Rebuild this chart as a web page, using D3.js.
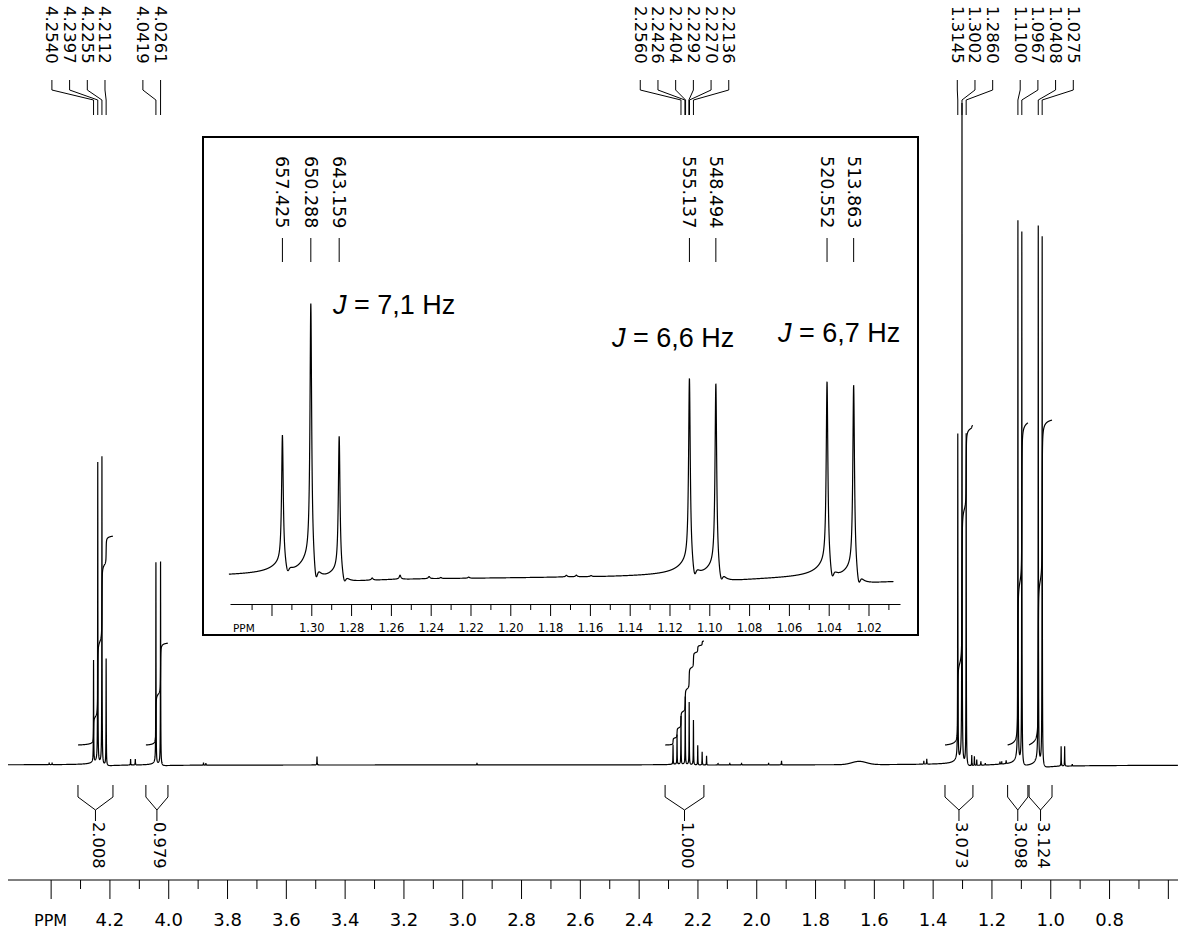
<!DOCTYPE html>
<html><head><meta charset="utf-8">
<script src="https://cdn.jsdelivr.net/npm/d3@7"></script>
<style>body{margin:0;background:#fff}svg{display:block}</style>
</head><body>
<svg id="c" width="1178" height="934"></svg>
<script>
// ================= DATA =================
// picked peaks (ppm), shown as labels on top
const labeledPpm = [4.2540,4.2397,4.2255,4.2112, 4.0419,4.0261,
  2.2560,2.2426,2.2404,2.2292,2.2270,2.2136,
  1.3145,1.3002,1.2860, 1.1100,1.0967,1.0408,1.0275];
const labelGroups = [[0,1,2,3],[4,5],[6,7,8,9,10,11],[12,13,14],[15,16,17,18]];
// main spectrum lines: position (ppm) and intensity (tallest = 100)
const mainLinePpm = [4.2540,4.2397,4.2255,4.2112, 4.0419,4.0261,
  2.2830,2.2694,2.2560,2.2415,2.2281,2.2136,2.1990,2.1840,2.1690,
  1.3145,1.3002,1.2860, 1.1100,1.0967, 1.0408,1.0275];
const mainLineInt = [15.5,45.6,46.7,16.2, 30.6,30.9,
  3.0,4.5,7.3,10.3,9.5,6.8,3.0,2.0,1.4,
  49.5,100,50.3, 82.0,80.8, 81.4,80.3];
// small impurity peaks
const smallPpm = [4.405,4.395,4.128,4.112,3.880,3.872,3.494,2.950,2.130,2.090,2.050,1.958,1.914,
  1.430,1.420,1.267,1.258,1.250,1.236,1.221,1.171,1.165,1.150,0.963,0.951,0.925];
const smallInt = [0.3,0.3,0.9,0.9,0.4,0.3,1.3,0.3,0.3,0.3,0.3,0.3,0.6,
  0.5,0.8,1.6,1.4,0.9,0.6,0.3,0.4,0.4,0.5,3.0,3.0,0.3];
const humpPpm = [1.650]; const humpInt = [0.5];
// integrals
const integralFrom = [4.307,4.076,2.310,1.358,1.145,1.072];
const integralTo   = [4.188,4.001,2.178,1.263,1.076,0.994];
const integralValues = [2.008,0.979,1.000,3.073,3.098,3.124];
// main axis
const axisMajor = [4.4,4.2,4.0,3.8,3.6,3.4,3.2,3.0,2.8,2.6,2.4,2.2,2.0,1.8,1.6,1.4,1.2,1.0,0.8,0.6];
const axisMinor = [4.3,4.1,3.9,3.7,3.5,3.3,3.1,2.9,2.7,2.5,2.3,2.1,1.9,1.7,1.5,1.3,1.1,0.9,0.7];
const axisLabels = ['', '4.2','4.0','3.8','3.6','3.4','3.2','3.0','2.8','2.6','2.4','2.2','2.0','1.8','1.6','1.4','1.2','1.0','0.8',''];
const axisUnit = 'PPM';
// inset (expansion)
const spectrometerMHz = 500.13;
const insetPeakHz = [657.425,650.288,643.159,555.137,548.494,520.552,513.863];
const insetPeakInt = [49.5,99,52.3,71,70.9,70.6,71.2];
const insetSmallPpm = [1.2694,1.2554,1.2408,1.2349,1.2209,1.1718,1.1668,1.1594,1.0943];
const insetSmallInt = [0.8,1.5,0.8,0.4,0.4,0.6,0.6,0.4,0.6];
const insetMajor = [1.32,1.30,1.28,1.26,1.24,1.22,1.20,1.18,1.16,1.14,1.12,1.10,1.08,1.06,1.04,1.02];
const insetMinor = [1.33,1.31,1.29,1.27,1.25,1.23,1.21,1.19,1.17,1.15,1.13,1.11,1.09,1.07,1.05,1.03,1.01];
const insetLabels = ['','1.30','1.28','1.26','1.24','1.22','1.20','1.18','1.16','1.14','1.12','1.10','1.08','1.06','1.04','1.02'];
const jTexts = [' = 7,1 Hz',' = 6,6 Hz',' = 6,7 Hz'];

// ================= LAYOUT =================
const L = {
  baseY: 765, topY: 105, axisY: 880,
  labelShift: [-21.4, -6.5, -2.7, 13, 16.7], labelSpacing: 17.7,
  inset: {x:203, y:137, w:715, h:498, baseY:578, topY:303, axisY:604},
  jPos: [[333,314],[612,347],[778,342]],
  brk: {top:785, mid:797, join:810, stem:821}
};
const svg = d3.select('#c');
const FONT = 'DejaVu Sans, Verdana, sans-serif';

// ppm -> px (spectrum and its axis)
const x = d3.scaleLinear().domain([4.5450, 0.5655]).range([8, 1178]);
const y = d3.scaleLinear().domain([0,100]).range([L.baseY, L.topY]);
const yInt = d3.scaleLinear().domain([0,1]).range([745, 641]);

// line shape model
const WN=0.0005, WB=0.005, A=0.01;
const mainLines = mainLinePpm.map((p,i)=>({p,h:mainLineInt[i]}))
  .concat(smallPpm.map((p,i)=>({p,h:smallInt[i]})));
function mainVal(p){
  let s=0;
  for(const l of mainLines){
    const un=(p-l.p)/WN, ub=(p-l.p)/WB;
    s += l.h*((1-A)/(1+un*un) + A*(1+ub)/(1+ub*ub));
  }
  humpPpm.forEach((hp,i)=>{ const u=(p-hp)/0.035; s+=humpInt[i]*Math.exp(-u*u); });
  return s;
}
function mainF(p){
  let s=0;
  for(const l of mainLines){
    s += l.h*((1-A)*WN*Math.atan((p-l.p)/WN) + A*WB*Math.atan((p-l.p)/WB));
  }
  return s;
}
function sampleGrid(pHi,pLo,step,centers,w){
  const pts=[];
  for(let p=pHi;p>=pLo;p-=step) pts.push(p);
  centers.forEach(c=>{ if(c<pHi&&c>pLo) for(let k=-4;k<=4;k++) pts.push(c+k*w*0.5); });
  return pts.filter(p=>p<=pHi&&p>=pLo).sort((a,b)=>b-a);
}

// ---- main spectrum ----
const [dHi,dLo] = x.domain();
const mainPts = sampleGrid(dHi,dLo,0.0004,mainLines.map(l=>l.p),WN);
svg.append('path')
  .attr('d', d3.line().x(p=>x(p)).y(p=>y(mainVal(p)))(mainPts))
  .attr('fill','none').attr('stroke','#000').attr('stroke-width',1.2);

// ---- integral curves + brackets ----
const B = L.brk;
integralFrom.forEach((pHi,i)=>{
  const pLo=integralTo[i];
  const tot = mainF(pHi)-mainF(pLo);
  const pts = sampleGrid(pHi,pLo,0.0004,mainLines.map(l=>l.p),WN);
  svg.append('path')
    .attr('d', d3.line().x(p=>x(p)).y(p=>yInt(integralValues[i]*(mainF(pHi)-mainF(p))/tot))(pts))
    .attr('fill','none').attr('stroke','#000').attr('stroke-width',1.2);
  const x1=x(pHi), x2=x(pLo), xm=(x1+x2)/2;
  svg.append('path')
    .attr('d',`M${x1},${B.top}V${B.mid}L${xm},${B.join}L${x2},${B.mid}V${B.top}M${xm},${B.join}V${B.stem}`)
    .attr('fill','none').attr('stroke','#000').attr('stroke-width',1);
  svg.append('text')
    .attr('transform',`translate(${xm+3},${B.stem+1}) rotate(90)`)
    .attr('font-family',FONT).attr('font-size',16.3)
    .attr('dominant-baseline','central')
    .text(integralValues[i].toFixed(3));
});

// ---- peak labels ----
labelGroups.forEach((g,gi)=>{
  const cx = d3.mean(g, i=>x(labeledPpm[i])) + L.labelShift[gi];
  g.forEach((idx,k)=>{
    const lx = cx + (k-(g.length-1)/2)*L.labelSpacing;
    const px = x(labeledPpm[idx]);
    svg.append('text')
      .attr('transform',`translate(${lx},6) rotate(90)`)
      .attr('font-family',FONT).attr('font-size',16.5)
      .attr('dominant-baseline','central')
      .text(labeledPpm[idx].toFixed(4));
    svg.append('path').attr('d',`M${lx},80V90L${px},100V115`)
      .attr('fill','none').attr('stroke','#000').attr('stroke-width',1);
  });
});

// ---- main axis ----
const axG = svg.append('g').attr('transform',`translate(0,${L.axisY})`);
axG.append('line').attr('x1',8).attr('x2',1178).attr('stroke','#000');
axG.append('g').call(d3.axisBottom(x).tickValues(axisMajor).tickSize(19).tickSizeOuter(0)
  .tickPadding(14).tickFormat((d,i)=>axisLabels[i])).select('.domain').remove();
axG.append('g').call(d3.axisBottom(x).tickValues(axisMinor).tickSize(9).tickSizeOuter(0).tickFormat(''))
  .select('.domain').remove();
axG.selectAll('text').attr('font-family',FONT).attr('font-size',18).attr('fill','#000');
axG.selectAll('line').attr('stroke','#000');
svg.append('text').attr('x',x(axisMajor[0])).attr('y',926).attr('text-anchor','middle')
  .attr('font-family',FONT).attr('font-size',16).text(axisUnit);

// ================= INSET =================
const I = L.inset;
svg.append('rect').attr('x',I.x).attr('y',I.y).attr('width',I.w).attr('height',I.h)
  .attr('fill','#fff').attr('stroke','#000').attr('stroke-width',2);
const xIn = d3.scaleLinear().domain([1.34085,1.00417]).range([230,900]);
const yIn = d3.scaleLinear().domain([0,100]).range([I.baseY, I.topY]);
const insetPpm = insetPeakHz.map(h=>h/spectrometerMHz);
const inLines = insetPpm.map((p,i)=>({p,h:insetPeakInt[i],big:true}))
  .concat(insetSmallPpm.map((p,i)=>({p,h:insetSmallInt[i]})));
const IWN=0.0005, IWB=0.004, IA=0.05;
function inVal(p){
  let s=0;
  for(const l of inLines){
    const un=(p-l.p)/IWN, ub=(p-l.p)/IWB;
    s += l.h*((1-IA)/(1+un*un) + IA*(1+ub)/(1+ub*ub));
    if(l.big){ const v=(p-(l.p-0.0025))/0.001; s -= 0.05*l.h*Math.exp(-v*v); }
  }
  return s;
}
const inPts = sampleGrid(1.3414,1.0074,0.00005,inLines.map(l=>l.p),IWN);
svg.append('path')
  .attr('d', d3.line().x(p=>xIn(p)).y(p=>yIn(inVal(p)))(inPts))
  .attr('fill','none').attr('stroke','#000').attr('stroke-width',1.2);
const iax = svg.append('g').attr('transform',`translate(0,${I.axisY})`);
iax.call(d3.axisBottom(xIn).tickValues(insetMajor).tickSize(12).tickSizeOuter(0)
  .tickPadding(8).tickFormat((d,i)=>insetLabels[i]));
iax.append('g').call(d3.axisBottom(xIn).tickValues(insetMinor).tickSize(6).tickSizeOuter(0).tickFormat(''))
  .select('.domain').remove();
iax.selectAll('text').attr('font-family',FONT).attr('font-size',11.5).attr('fill','#000');
iax.selectAll('line,path').attr('stroke','#000');
svg.append('text').attr('x',233).attr('y',I.axisY+28).attr('font-family',FONT).attr('font-size',10.5).text(axisUnit);
insetPeakHz.forEach((hz,i)=>{
  const px = xIn(insetPpm[i]);
  svg.append('text')
    .attr('transform',`translate(${px},156) rotate(90)`)
    .attr('font-family',FONT).attr('font-size',17.5)
    .attr('dominant-baseline','central')
    .text(hz.toFixed(3));
  svg.append('line').attr('x1',px).attr('x2',px).attr('y1',238).attr('y2',262)
    .attr('stroke','#000').attr('stroke-width',1);
});
jTexts.forEach((t,i)=>{
  const tx = svg.append('text').attr('x',L.jPos[i][0]).attr('y',L.jPos[i][1])
    .attr('font-family','Liberation Sans, Arial, sans-serif').attr('font-size',27);
  tx.append('tspan').attr('font-style','italic').text('J');
  tx.append('tspan').text(t);
});
</script>
</body></html>
